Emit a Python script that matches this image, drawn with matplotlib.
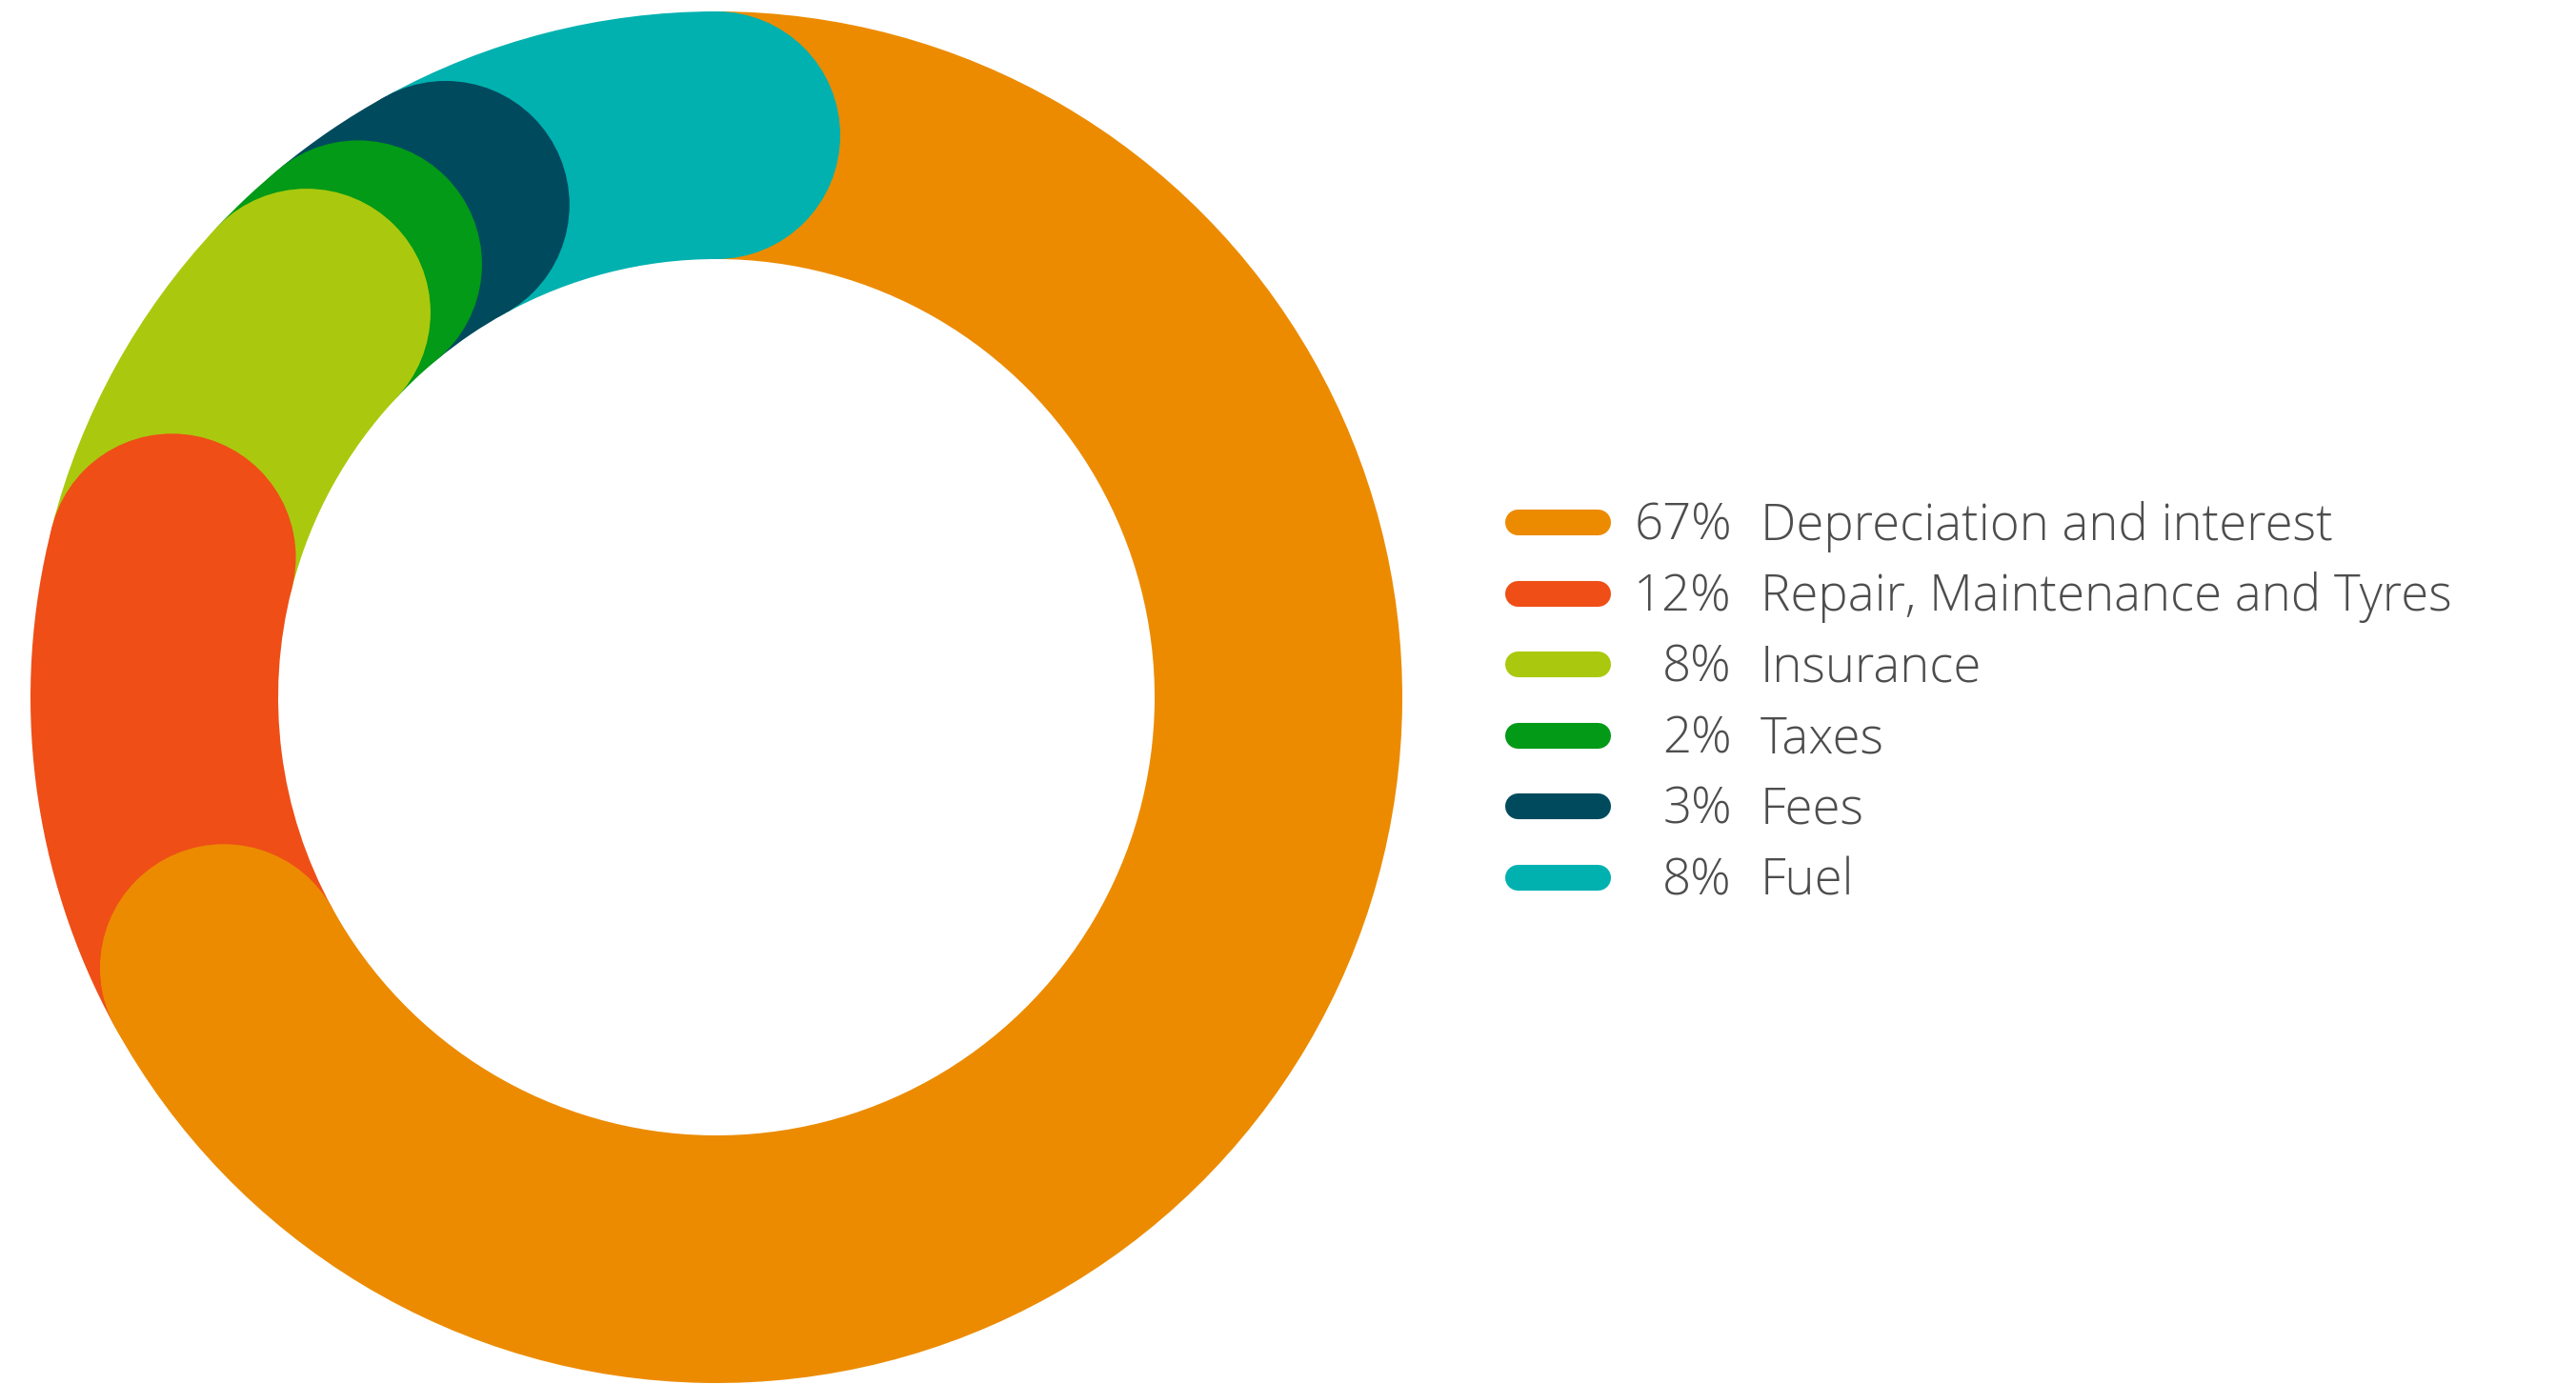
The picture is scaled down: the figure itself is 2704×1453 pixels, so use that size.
import numpy as np
import matplotlib.pyplot as plt
from matplotlib.patches import Circle

# dados
labels = ['Depreciation and interest', 'Repair, Maintenance and Tyres', 'Insurance',
          'Taxes', 'Fees', 'Fuel']
values = [67, 12, 8, 2, 3, 8]
colors = ['#EC8B00', '#EF4E17', '#AAC90E', '#029A16', '#004A5E', '#00B1B0']

W, H = 2704, 1453
fig = plt.figure(figsize=(W / 100, H / 100), dpi=100)

# donut: quadrado de 1440 px centrado em (752, 732)
ax = fig.add_axes([32 / W, 1 / H, 1440 / W, 1440 / H])
ring = 260 / 720
wedges, _ = ax.pie(values, colors=colors, startangle=90, counterclock=False,
                   radius=1, wedgeprops=dict(width=ring, linewidth=0))
ax.set_xlim(-1, 1)
ax.set_ylim(-1, 1)
ax.set_aspect('equal')
ax.axis('off')

# pontas arredondadas no fim de cada fatia (ultima fatia primeiro)
rm = 1 - ring / 2
for w in reversed(wedges):
    a = np.deg2rad(w.theta1)
    ax.add_patch(Circle((rm * np.cos(a), rm * np.sin(a)), ring / 2,
                        facecolor=w.get_facecolor(), linewidth=0, clip_on=False))

# legenda em coordenadas de pixel
lg = fig.add_axes([0, 0, 1, 1])
lg.set_xlim(0, W)
lg.set_ylim(H, 0)
lg.axis('off')

fonte = dict(fontsize=38, family='Open Sans', weight='light', color='#4d4d4d')
y0, dy = 548, 74.6
for i, (lab, v, c) in enumerate(zip(labels, values, colors)):
    y = y0 + i * dy
    lg.plot([1579 + 13.5, 1690 - 13.5], [y, y], color=c, lw=19.5,
            solid_capstyle='round')
    lg.text(1818, y + 18.5, f'{v}%', ha='right', va='baseline', **fonte)
    lg.text(1848, y + 18.5, lab, ha='left', va='baseline', **fonte)

fig.savefig('out.png', dpi=100, facecolor='white')
